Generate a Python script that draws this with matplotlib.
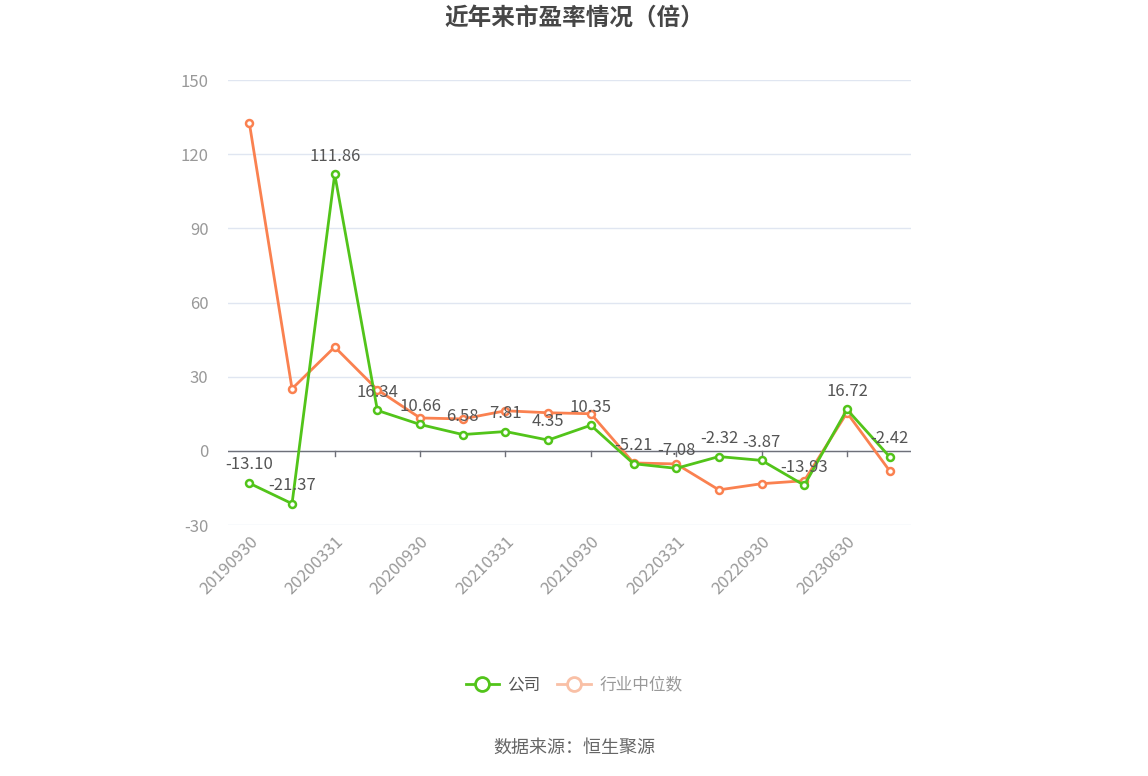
import matplotlib.pyplot as plt
from matplotlib.lines import Line2D

plt.rcParams['font.family'] = ['Noto Sans CJK SC', 'DejaVu Sans']

# data
dates = ['20190930', '20191231', '20200331', '20200630', '20200930', '20201231',
         '20210331', '20210630', '20210930', '20211231', '20220331', '20220630',
         '20220930', '20221231', '20230630', '20230930']
company = [-13.10, -21.37, 111.86, 16.34, 10.66, 6.58, 7.81, 4.35, 10.35,
           -5.21, -7.08, -2.32, -3.87, -13.93, 16.72, -2.42]
industry = [132.6, 25.1, 42.0, 24.7, 13.3, 12.9, 16.2, 15.4, 15.0,
            -4.9, -5.3, -15.8, -13.3, -12.1, 15.4, -8.1]
yticks = [-30, 0, 30, 60, 90, 120, 150]

green = '#52c41a'
orange = '#fa8150'

fig = plt.figure(figsize=(11.48, 7.76), dpi=100)
ax = fig.add_axes([228 / 1148, 1 - 525 / 776, (911 - 228) / 1148, 445 / 776])

x = list(range(len(dates)))
ax.plot(x, company, color=green, lw=2, marker='o', ms=5, mfc='white',
        mec=green, mew=1.8, zorder=4)
ax.plot(x, industry, color=orange, lw=2, marker='o', ms=5, mfc='white',
        mec=orange, mew=1.8, zorder=3)

for xi, v in zip(x, company):
    ax.annotate(f'{v:.2f}', (xi, v), xytext=(0, 7), textcoords='offset points',
                ha='center', va='bottom', fontsize=12, color='#555555', zorder=5)

ax.set_xlim(-0.5, len(dates) - 0.5)
ax.set_ylim(-30, 150)
ax.set_yticks(yticks)
ax.set_yticklabels([str(t) for t in yticks], color='#999999', fontsize=12)
ax.grid(axis='y', color='#e0e6f1', lw=1)
ax.set_axisbelow(True)
ax.axhline(0, color='#6e7079', lw=1, zorder=2)

ax.set_xticks(x[::2])
ax.set_xticklabels(dates[::2], rotation=45, ha='right', rotation_mode='anchor',
                   color='#999999', fontsize=12)
ax.tick_params(axis='y', length=0, pad=14)
ax.tick_params(axis='x', length=0, pad=6)
for xi in x[2::2]:
    ax.plot([xi, xi], [0, -2.2], color='#6e7079', lw=1, zorder=2, clip_on=False)
for s in ax.spines.values():
    s.set_visible(False)

fig.text(0.5, 1 - 18 / 776, '近年来市盈率情况（倍）', ha='center', va='center',
         fontsize=17, fontweight='bold', color='#464646')

handles = [Line2D([], [], color=green, lw=2, marker='o', ms=10, mfc='white', mew=2),
           Line2D([], [], color='#f9c0a6', lw=2, marker='o', ms=10, mfc='white', mew=2)]
leg = fig.legend(handles, ['公司', '行业中位数'], loc='center',
                 bbox_to_anchor=(0.5, 1 - 685 / 776), ncol=2, frameon=False,
                 fontsize=12, handlelength=2, columnspacing=1.0, handletextpad=0.5)
leg.get_texts()[0].set_color('#555555')
leg.get_texts()[1].set_color('#999999')

fig.text(0.5, 1 - 748 / 776, '数据来源：恒生聚源', ha='center', va='center',
         fontsize=13, color='#666666')

fig.savefig('out.png', dpi=100, facecolor='white')
